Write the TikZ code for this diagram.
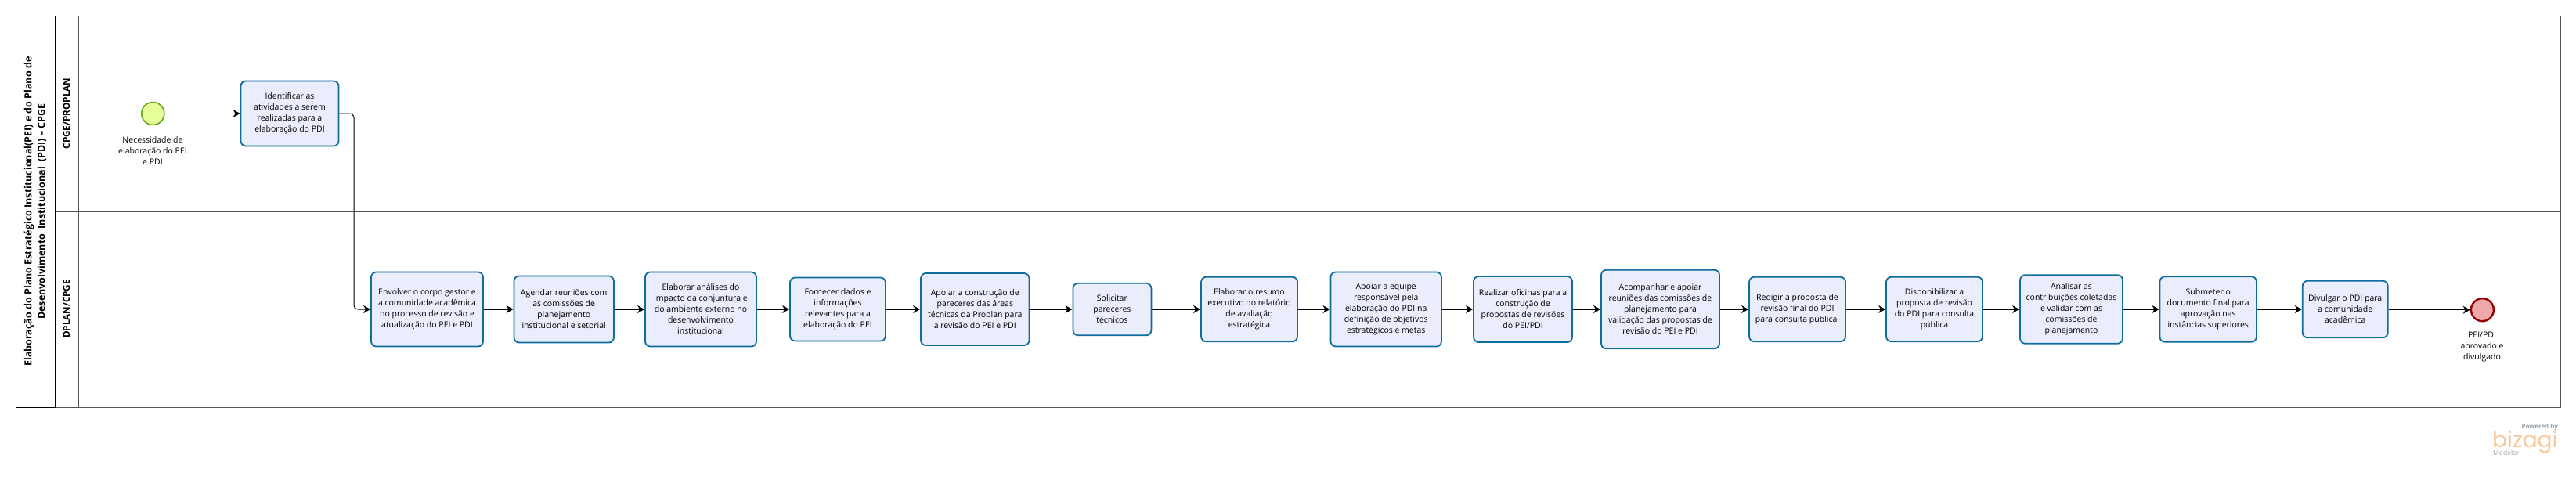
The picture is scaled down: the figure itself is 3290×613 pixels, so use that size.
\documentclass[tikz,border=0pt]{standalone}
\usepackage{fontspec}
\setmainfont{Open Sans}
\newfontfamily\logofont{Poppins}
\usetikzlibrary{arrows.meta}
\definecolor{taskfill}{HTML}{EAEEFC}
\definecolor{taskline}{HTML}{0F6C9E}
\definecolor{poolline}{HTML}{555555}
\definecolor{startline}{HTML}{62A716}
\definecolor{startfill}{HTML}{E6FF97}
\definecolor{endline}{HTML}{990000}
\definecolor{endfill}{HTML}{EEAAAA}
\definecolor{logoorange}{HTML}{F8C89A}
\definecolor{logogray}{HTML}{98A2A8}
\tikzset{
	taskbox/.style={draw=taskline,fill=taskfill,line width=1.8pt,rounded corners=6.5pt,align=center,inner sep=0pt,font=\fontsize{10.5}{14}\selectfont},
	flowline/.style={draw=black,line width=1pt,-{Stealth[length=9pt,width=10pt]}},
	eventlabel/.style={align=center,inner sep=0pt,font=\fontsize{10.5}{14}\selectfont},
	lanelabel/.style={rotate=90,inner sep=0pt,font=\fontsize{11.7}{17}\selectfont\bfseries},
}
\begin{document}
\begin{tikzpicture}[x=1pt,y=-1pt]
	\useasboundingbox (0,0) rectangle (3290,613);
	% pool and lanes
	\draw[poolline,line width=0.9pt] (70.5,20.3)--(3270,20.3)--(3270,520)--(70.5,520);
	\draw[poolline,line width=0.9pt] (70.5,270)--(3270,270);
	\draw[poolline,line width=0.9pt] (100.5,20.3)--(100.5,520);
	\draw[black,line width=1pt] (20.5,20.3) rectangle (70.5,520);
	\node[lanelabel,align=center,font=\fontsize{12.5}{17}\selectfont\bfseries] (pooltitle) at (45,270) {Elaboração do Plano Estratégico Institucional(PEI) e do Plano de\\Desenvolvimento\ \ Institucional\ \ (PDI) – CPGE};
	\node[lanelabel] (lanecpge) at (85,145) {CPGE/PROPLAN};
	\node[lanelabel] (lanedplan) at (85,394.5) {DPLAN/CPGE};
	% events
	\node[circle,draw=startline,fill=startfill,line width=1.6pt,inner sep=0pt,minimum size=29pt] (inicio) at (195.3,145) {};
	\node[eventlabel] (inicioleg) at (195,193) {Necessidade de\\elaboração do PEI\\e PDI};
	\node[circle,draw=endline,fill=endfill,line width=2.4pt,inner sep=0pt,minimum size=29pt] (fim) at (3170.4,395.7) {};
	\node[eventlabel] (fimleg) at (3170,443) {PEI/PDI\\aprovado e\\divulgado};
	% tasks
	\node[taskbox,minimum width=125pt,minimum height=83pt] (identificar) at (370,145) {Identificar as\\atividades a serem\\realizadas para a\\elaboração do PDI};
	\node[taskbox,minimum width=143pt,minimum height=95pt] (envolver) at (545.5,395) {Envolver o corpo gestor e\\a comunidade acadêmica\\no processo de revisão e\\atualização do PEI e PDI};
	\node[taskbox,minimum width=127.5pt,minimum height=85pt] (agendar) at (720.2,395) {Agendar reuniões com\\as comissões de\\planejamento\\institucional e setorial};
	\node[taskbox,minimum width=142pt,minimum height=95pt] (analises) at (895,395) {Elaborar análises do\\impacto da conjuntura e\\do ambiente externo no\\desenvolvimento\\institucional};
	\node[taskbox,minimum width=122pt,minimum height=81pt] (fornecer) at (1070,395) {Fornecer dados e\\informações\\relevantes para a\\elaboração do PEI};
	\node[taskbox,minimum width=138.5pt,minimum height=92pt] (pareceres) at (1245.3,395) {Apoiar a construção de\\pareceres das áreas\\técnicas da Proplan para\\a revisão do PEI e PDI};
	\node[taskbox,minimum width=100pt,minimum height=66.5pt] (solicitar) at (1420.4,395) {Solicitar\\pareceres\\técnicos};
	\node[taskbox,minimum width=123pt,minimum height=82.5pt] (resumo) at (1595.5,395) {Elaborar o resumo\\executivo do relatório\\de avaliação\\estratégica};
	\node[taskbox,minimum width=141.5pt,minimum height=95pt] (equipe) at (1770.2,395) {Apoiar a equipe\\responsável pela\\elaboração do PDI na\\definição de objetivos\\estratégicos e metas};
	\node[taskbox,minimum width=126pt,minimum height=84pt] (oficinas) at (1945,395) {Realizar oficinas para a\\construção de\\propostas de revisões\\do PEI/PDI};
	\node[taskbox,minimum width=151pt,minimum height=100.5pt] (reunioes) at (2120.5,395) {Acompanhar e apoiar\\reuniões das comissões de\\planejamento para\\validação das propostas de\\revisão do PEI e PDI};
	\node[taskbox,minimum width=123pt,minimum height=82.5pt] (redigir) at (2295.5,395) {Redigir a proposta de\\revisão final do PDI\\para consulta pública.};
	\node[taskbox,minimum width=123pt,minimum height=82.5pt] (disponibilizar) at (2470.5,395) {Disponibilizar a\\proposta de revisão\\do PDI para consulta\\pública};
	\node[taskbox,minimum width=131pt,minimum height=87.5pt] (contribuicoes) at (2645.5,395) {Analisar as\\contribuições coletadas\\e validar com as\\comissões de\\planejamento};
	\node[taskbox,minimum width=123.5pt,minimum height=83.5pt] (submeter) at (2820.2,395) {Submeter o\\documento final para\\aprovação nas\\instâncias superiores};
	\node[taskbox,minimum width=109pt,minimum height=72.5pt] (divulgar) at (2995.2,395) {Divulgar o PDI para\\a comunidade\\acadêmica};
	% flows
	\coordinate (dobra) at (3102.4,395.7);
	\draw[flowline] (inicio)--(identificar);
	\draw[flowline,rounded corners=5pt] (identificar.east)--(452,145)--(452,395)--(envolver.west);
	\draw[flowline] (envolver)--(agendar);
	\draw[flowline] (agendar)--(analises);
	\draw[flowline] (analises)--(fornecer);
	\draw[flowline] (fornecer)--(pareceres);
	\draw[flowline] (pareceres)--(solicitar);
	\draw[flowline] (solicitar)--(resumo);
	\draw[flowline] (resumo)--(equipe);
	\draw[flowline] (equipe)--(oficinas);
	\draw[flowline] (oficinas)--(reunioes);
	\draw[flowline] (reunioes)--(redigir);
	\draw[flowline] (redigir)--(disponibilizar);
	\draw[flowline] (disponibilizar)--(contribuicoes);
	\draw[flowline] (contribuicoes)--(submeter);
	\draw[flowline] (submeter)--(divulgar);
	\draw[flowline] (divulgar.east)--(3102.4,395)--(dobra)--(fim.west);
	% logo
	\node[anchor=east,inner sep=0pt,text=logogray,font=\fontsize{8}{8}\selectfont\bfseries] (logoby) at (3267,545) {Powered by};
	\node[anchor=base west,inner sep=0pt,text=logoorange,font=\logofont\fontsize{28}{28}\selectfont] (logobizagi) at (3183,571) {bizagi};
	\node[anchor=west,inner sep=0pt,text=logogray,font=\fontsize{8.5}{8.5}\selectfont] (logomodeler) at (3184,578) {Modeler};
\end{tikzpicture}
\end{document}
